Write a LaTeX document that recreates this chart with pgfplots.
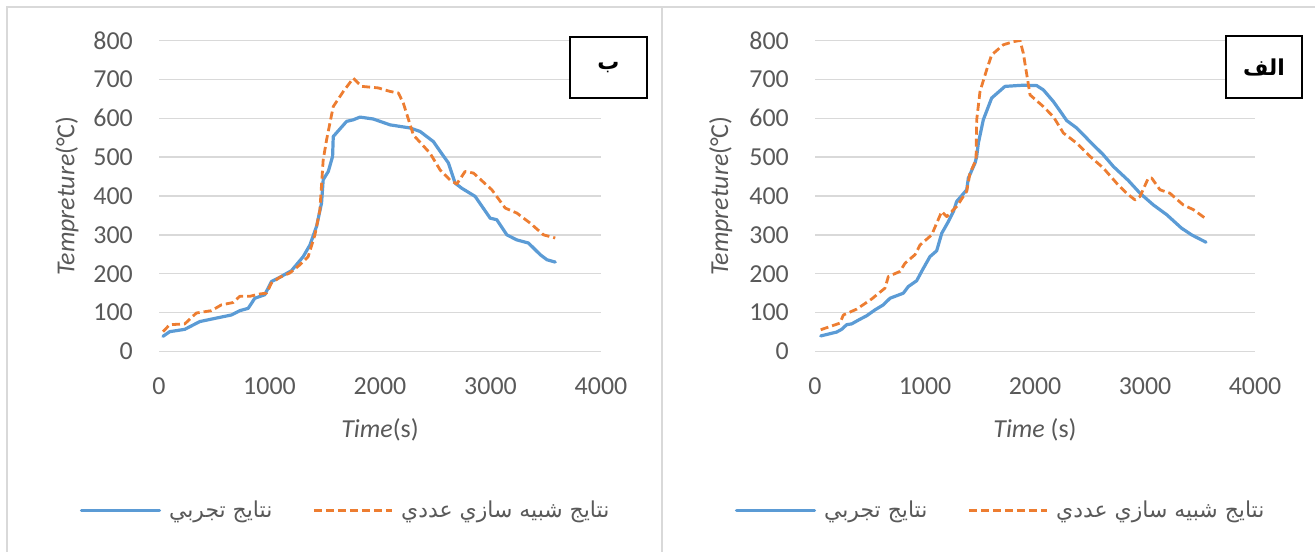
\documentclass[border=0pt]{standalone}
\usepackage{fontspec}
\usepackage{pgfplots}
\pgfplotsset{compat=1.18}
\setmainfont{Carlito}
\newfontfamily\arabicfont[Script=Arabic]{DejaVu Sans}
\TeXXeTstate=1
\definecolor{xlblue}{HTML}{5B9BD5}
\definecolor{xlorange}{HTML}{ED7D31}
\definecolor{xlgray}{HTML}{595959}
\definecolor{gridgray}{HTML}{D9D9D9}
\newcommand{\ar}[1]{{\arabicfont\beginR #1\endR}}

\pgfplotstableread{
x y
36 39
97 51
233 57
369 77
520 86
656 94
731 105
807 111
867 137
957 146
1018 180
1094 191
1199 208
1305 244
1366 274
1426 322
1471 382
1486 442
1532 463
1571 502
1577 553
1698 592
1758 596
1819 603
1940 598
2091 583
2272 575
2363 566
2483 540
2544 515
2619 485
2680 433
2740 420
2861 399
2997 343
3057 339
3148 300
3239 287
3344 279
3450 249
3511 236
3586 230
}\expB

\pgfplotstableread{
x y
36 51
97 69
233 71
338 99
474 105
565 120
671 126
731 142
822 142
912 148
973 150
1018 176
1094 191
1184 202
1275 223
1350 244
1411 300
1456 364
1486 493
1517 545
1577 630
1668 669
1758 703
1834 682
1985 678
2091 669
2166 665
2211 639
2302 557
2453 510
2544 467
2634 441
2695 431
2770 463
2846 459
3012 416
3133 369
3239 356
3360 330
3480 300
3586 292
}\simB

\pgfplotstableread{
x y
52 40
197 50
242 57
288 69
333 71
409 83
470 92
545 107
621 120
682 137
803 150
848 167
924 182
985 214
1045 244
1106 259
1152 304
1212 334
1258 360
1288 386
1379 416
1394 446
1455 485
1470 502
1485 536
1530 596
1606 652
1727 682
1894 685
2015 684
2076 673
2167 643
2242 613
2288 594
2379 575
2500 540
2621 506
2712 476
2848 440
2955 407
3076 377
3197 352
3333 317
3424 300
3555 281
}\expA

\pgfplotstableread{
x y
52 56
227 73
258 94
379 109
515 135
636 163
667 193
773 206
818 227
909 249
955 274
1061 300
1106 330
1152 360
1197 347
1288 373
1379 412
1409 459
1464 493
1470 596
1500 669
1561 725
1606 763
1712 789
1803 797
1864 800
1894 767
1955 660
2076 630
2167 604
2258 562
2379 536
2500 502
2621 472
2742 433
2833 407
2909 390
2955 399
3030 446
3061 446
3136 416
3227 407
3348 377
3439 365
3561 340
}\simA

\pgfplotsset{excel/.style={
  scale only axis, height=311bp,
  xmin=0, xmax=4000, ymin=0, ymax=800,
  xtick={0,1000,2000,3000,4000}, ytick={0,100,...,800},
  axis line style={draw=none}, tick style={draw=none},
  ymajorgrids, grid style={gridgray, line width=1.4bp},
  /pgf/number format/assume math mode=true,
  /pgf/number format/set thousands separator={},
  ticklabel style={font=\fontsize{26}{30}\selectfont, text=xlgray, inner sep=0pt},
  yticklabel style={anchor=east, xshift=-26bp},
  xticklabel style={anchor=north, yshift=-26bp},
  label style={font=\fontsize{26}{30}\selectfont, text=xlgray},
  xlabel style={at={(axis description cs:0.5,-0.252)}, anchor=center},
  legend columns=2,
  legend style={draw=none, fill=none, inner sep=0pt, outer sep=0pt,
    font=\fontsize{22}{26}\selectfont, text=xlgray,
    nodes={inner sep=0pt},
    /tikz/every odd column/.append style={column sep=8bp},
    /tikz/every even column/.append style={column sep=40bp}},
  legend image code/.code={\draw[##1] (0bp,0bp) -- (78bp,0bp);},
  blueline/.style={xlblue, line width=3.2bp, line join=round, line cap=round},
  orangeline/.style={xlorange, line width=2.8bp, dash pattern=on 8bp off 4bp, line join=round},
}}

\begin{document}
\begin{tikzpicture}
\useasboundingbox (0,0) rectangle (1315bp,552bp);
\begin{scope}
\clip (0,0) rectangle (1315bp,552bp);
\draw[gridgray, line width=2bp] (7bp,-10bp) -- (7bp,545bp) -- (1330bp,545bp);
\draw[gridgray, line width=2bp] (662bp,-10bp) -- (662bp,545bp);
\end{scope}

\begin{axis}[excel, width=442bp, at={(159bp,200.5bp)}, anchor=south west,
  xlabel={\textit{Time}(s)}, ylabel={\textit{Tempreture}(°C)},
  ylabel style={at={(axis description cs:-0.208,0.5)}, anchor=center},
  legend style={at={(axis description cs:-0.179,-0.51)}, anchor=west}]
\addplot[blueline] table[x=x,y=y] {\expB};
\addlegendentry{\ar{نتايج تجربي}}
\addplot[orangeline] table[x=x,y=y] {\simB};
\addlegendentry{\ar{نتايج شبيه سازي عددي}}
\end{axis}

\begin{axis}[excel, width=440bp, at={(815bp,200.5bp)}, anchor=south west,
  xlabel={\textit{Time} (s)}, ylabel={\textit{Tempreture}(°C)},
  ylabel style={at={(axis description cs:-0.214,0.5)}, anchor=center},
  legend style={at={(axis description cs:-0.182,-0.51)}, anchor=west}]
\addplot[blueline] table[x=x,y=y] {\expA};
\addlegendentry{\ar{نتايج تجربي}}
\addplot[orangeline] table[x=x,y=y] {\simA};
\addlegendentry{\ar{نتايج شبيه سازي عددي}}
\end{axis}

\node[draw=black, line width=1.3bp, fill=white, minimum width=77bp, minimum height=61bp, inner sep=0pt]
  at (608.5bp,484.5bp) {\fontsize{22}{26}\selectfont\arabicfont\bfseries\beginR ب\endR};
\node[draw=black, line width=1.3bp, fill=white, minimum width=76bp, minimum height=62bp, inner sep=0pt]
  at (1264bp,485bp) {\fontsize{22}{26}\selectfont\arabicfont\bfseries\beginR الف\endR};
\end{tikzpicture}
\end{document}
